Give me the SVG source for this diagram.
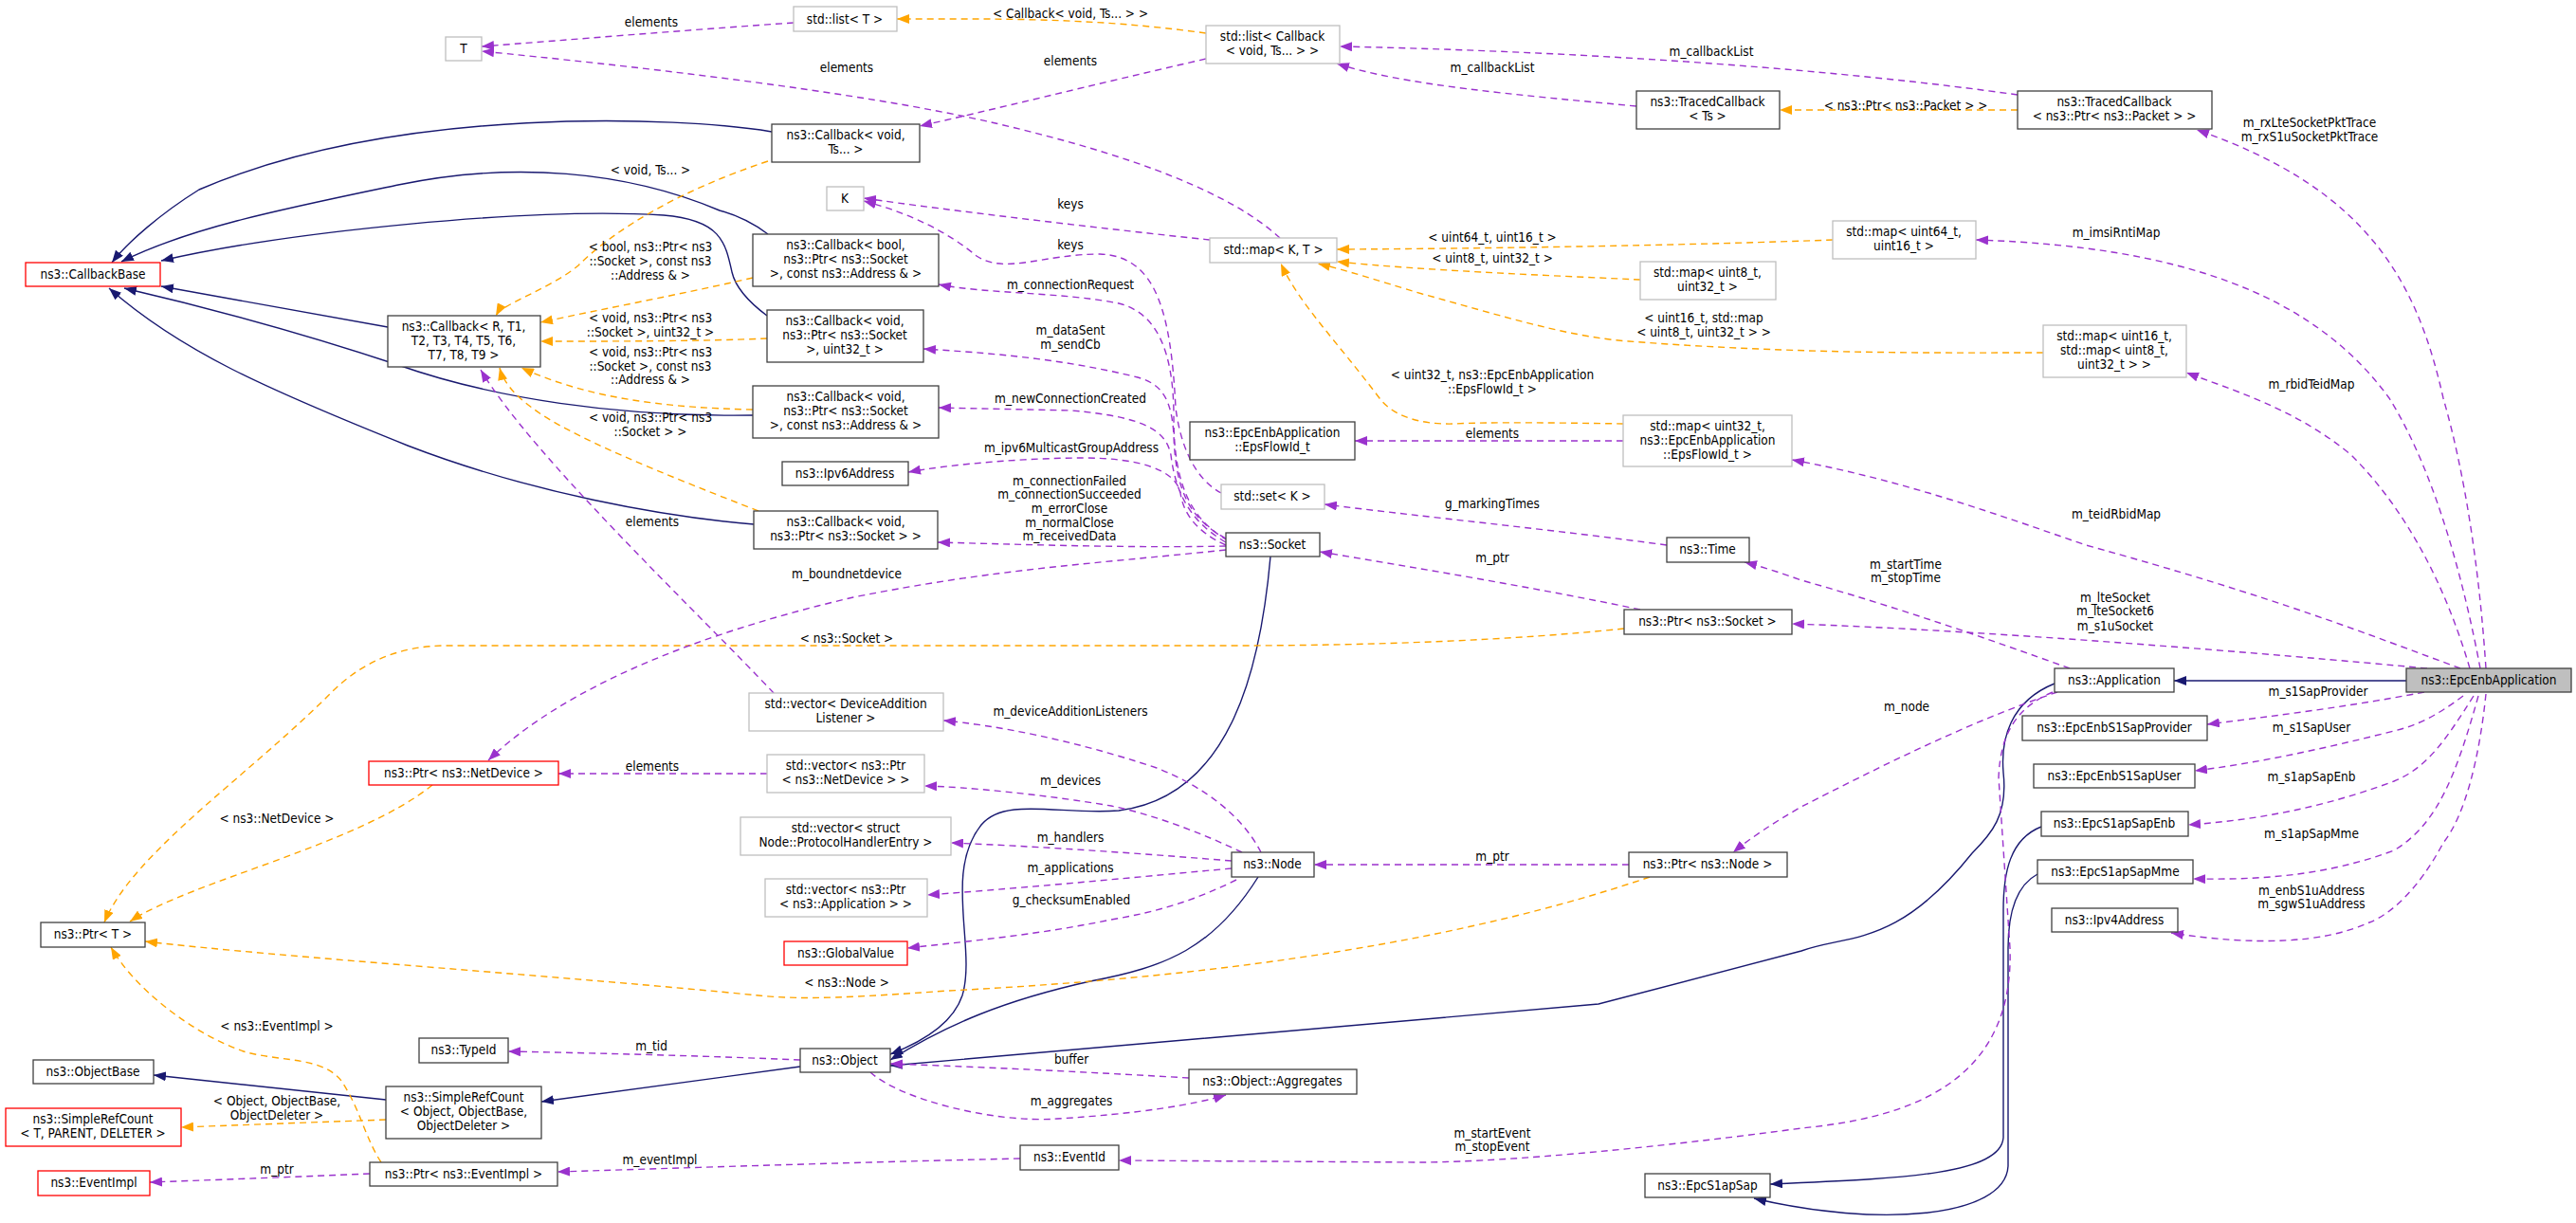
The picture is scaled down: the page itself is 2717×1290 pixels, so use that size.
<svg xmlns="http://www.w3.org/2000/svg" width="2717" height="1290" viewBox="0 0 2717 1290">
<style>
text{font-family:"DejaVu Sans Condensed","Liberation Sans",Arial,sans-serif;font-size:13.5px;fill:#000;text-anchor:middle}
.n rect{fill:#fff;stroke:#404040;stroke-width:1.3}
.g rect{fill:#fff;stroke:#bfbfbf;stroke-width:1.3}
.r rect{fill:#fff;stroke:#ff0000;stroke-width:1.3}
.sel rect{fill:#bfbfbf;stroke:#404040;stroke-width:1.3}
.i{fill:none;stroke:#191970;stroke-width:1.4;marker-end:url(#ai)}
.u{fill:none;stroke:#9a32cd;stroke-width:1.4;stroke-dasharray:7,5;marker-end:url(#au)}
.t{fill:none;stroke:#ffa500;stroke-width:1.4;stroke-dasharray:7,5;marker-end:url(#at)}
</style>
<defs>
<marker id="ai" markerUnits="userSpaceOnUse" markerWidth="14" markerHeight="10" refX="13" refY="5" orient="auto"><path d="M0,0 L13,5 L0,10 z" fill="#191970"/></marker>
<marker id="au" markerUnits="userSpaceOnUse" markerWidth="14" markerHeight="10" refX="13" refY="5" orient="auto"><path d="M0,0 L13,5 L0,10 z" fill="#9a32cd"/></marker>
<marker id="at" markerUnits="userSpaceOnUse" markerWidth="14" markerHeight="10" refX="13" refY="5" orient="auto"><path d="M0,0 L13,5 L0,10 z" fill="#ffa500"/></marker>
</defs>
<rect width="2717" height="1290" fill="#fff"/>
<g id="connectors">
<path class="i" d="M814,139 C720,123 420,110 210,200 C170,225 135,255 118,277"/>
<path class="i" d="M810,247 C790,232 770,225 759,222 C660,180 540,170 420,195 C300,220 200,240 128,276"/>
<path class="i" d="M809,333 C785,315 775,300 772,287 C765,255 760,232 700,227 C560,218 300,245 170,275"/>
<path class="i" d="M409,345 L170,302"/>
<path class="i" d="M794,438 C650,440 520,420 420,385 C300,345 200,320 131,304"/>
<path class="i" d="M795,553 C700,545 560,520 430,470 C280,410 190,370 115,304"/>
<path class="i" d="M1340,587 C1330,700 1300,840 1180,855 C1120,860 1060,840 1035,870 C995,920 1030,1000 1015,1050 C1005,1080 970,1100 939,1112"/>
<path class="i" d="M1327,925 C1280,1000 1230,1020 1150,1035 C1060,1055 1000,1080 939,1118"/>
<path class="i" d="M2167,721 C2120,740 2110,780 2113,815 C2118,860 2100,880 2080,900 C2000,1000 1950,985 1900,1003 L1686,1059 L939,1124"/>
<path class="i" d="M844,1125 L571,1162"/>
<path class="i" d="M407,1160 L162,1134"/>
<path class="i" d="M2538,718 L2293,718"/>
<path class="i" d="M2153,872 C2120,885 2113,920 2113,960 L2113,1200 C2110,1240 2000,1243 1867,1249"/>
<path class="i" d="M2149,922 C2125,935 2118,965 2118,1000 L2118,1230 C2115,1285 1980,1295 1850,1264"/>
<path class="t" d="M1272,35 C1150,18 1050,20 946,20"/>
<path class="t" d="M810,170 C720,200 650,240 610,280 C580,305 530,320 523,333"/>
<path class="t" d="M794,293 C720,310 640,325 570,340"/>
<path class="t" d="M809,357 C740,360 650,360 570,360"/>
<path class="t" d="M794,432 C700,430 620,420 550,388"/>
<path class="t" d="M800,539 C700,500 600,460 561,430 C540,415 530,400 527,388"/>
<path class="t" d="M2128,116 L1877,116"/>
<path class="t" d="M1933,253 C1800,258 1600,262 1410,263"/>
<path class="t" d="M1730,295 C1620,290 1500,285 1410,276"/>
<path class="t" d="M2155,372 C2050,372 1900,374 1718,360 C1650,355 1574,330 1500,310 C1450,295 1420,285 1390,278"/>
<path class="t" d="M1712,447 C1650,446 1570,445 1534,447 C1500,448 1470,440 1455,420 C1410,360 1370,320 1351,278"/>
<path class="t" d="M1713,663 C1600,675 1450,681 1300,681 L470,681 C420,681 380,700 350,730 C260,820 140,900 110,973"/>
<path class="t" d="M456,828 C380,890 200,930 137,972"/>
<path class="t" d="M1740,925 C1550,990 1300,1030 1000,1045 C900,1052 850,1055 800,1050 C600,1030 300,1010 153,993"/>
<path class="t" d="M402,1226 C385,1200 380,1170 360,1140 C340,1115 300,1120 260,1110 C200,1090 140,1040 117,999"/>
<path class="t" d="M407,1181 L191,1189"/>
<path class="u" d="M837,24 C720,32 600,42 508,49"/>
<path class="u" d="M1350,251 C1300,205 1200,165 1050,130 C900,95 650,68 508,54"/>
<path class="u" d="M1272,62 C1150,90 1050,115 970,133"/>
<path class="u" d="M1726,112 C1600,100 1480,90 1410,67"/>
<path class="u" d="M2128,100 C1950,75 1700,55 1413,49"/>
<path class="u" d="M1276,253 C1180,243 1000,222 911,209"/>
<path class="u" d="M1288,520 C1260,505 1245,470 1240,430 C1235,330 1220,270 1160,268 C1100,268 1060,290 1030,270 C1000,245 960,225 911,212"/>
<path class="u" d="M1295,570 C1250,545 1238,500 1238,440 C1238,370 1220,330 1180,320 C1120,308 1040,310 990,300"/>
<path class="u" d="M1293,568 C1250,545 1240,510 1238,460 C1236,420 1225,405 1200,398 C1120,378 1040,372 974,368"/>
<path class="u" d="M1293,572 C1255,550 1240,520 1235,480 C1230,455 1210,440 1130,433 L990,430"/>
<path class="u" d="M1293,575 C1260,560 1248,540 1245,520 C1240,495 1200,483 1143,483 C1080,483 1000,490 958,498"/>
<path class="u" d="M1293,576 C1200,578 1100,575 989,572"/>
<path class="u" d="M1293,580 C1150,595 1050,600 900,630 C750,665 600,720 515,802"/>
<path class="u" d="M1712,465 L1429,465"/>
<path class="u" d="M1758,575 C1650,560 1500,545 1397,532"/>
<path class="u" d="M1730,643 C1620,620 1500,600 1392,582"/>
<path class="u" d="M816,731 C740,650 560,480 507,390"/>
<path class="u" d="M809,816 L589,816"/>
<path class="u" d="M1330,899 C1310,860 1270,830 1220,810 C1130,780 1050,765 995,760"/>
<path class="u" d="M1310,899 C1270,880 1220,860 1172,850 C1100,838 1020,830 975,829"/>
<path class="u" d="M1299,908 C1200,900 1100,893 1003,889"/>
<path class="u" d="M1299,916 C1200,925 1100,935 978,944"/>
<path class="u" d="M1304,928 C1260,950 1220,962 1172,970 C1100,985 1030,992 957,1000"/>
<path class="u" d="M1718,912 L1386,912"/>
<path class="u" d="M844,1118 C750,1114 640,1111 536,1109"/>
<path class="u" d="M1254,1137 C1150,1131 1050,1126 939,1122"/>
<path class="u" d="M918,1131 C950,1160 1050,1185 1115,1180 C1200,1175 1260,1165 1293,1155"/>
<path class="u" d="M390,1238 C320,1241 240,1244 158,1247"/>
<path class="u" d="M1076,1222 C900,1226 750,1231 588,1236"/>
<path class="u" d="M2165,730 C2130,745 2110,770 2108,820 L2120,1000 C2125,1150 2000,1180 1900,1190 C1750,1210 1600,1225 1500,1226 L1180,1224"/>
<path class="u" d="M2183,705 C2100,675 2000,640 1900,612 C1880,605 1860,598 1840,593"/>
<path class="u" d="M2170,730 C2080,760 1980,810 1900,851 C1870,868 1845,885 1828,899"/>
<path class="u" d="M2622,705 C2615,600 2600,500 2577,420 C2550,300 2500,200 2317,137"/>
<path class="u" d="M2616,705 C2600,620 2570,500 2520,420 C2440,310 2300,260 2084,253"/>
<path class="u" d="M2605,705 C2580,620 2540,540 2480,480 C2420,430 2350,410 2306,393"/>
<path class="u" d="M2595,705 C2500,670 2400,630 2200,575 C2100,540 2000,505 1890,485"/>
<path class="u" d="M2560,705 C2400,690 2100,665 1890,658"/>
<path class="u" d="M2557,730 C2480,745 2400,755 2328,764"/>
<path class="u" d="M2598,734 C2570,755 2550,765 2525,771 C2450,790 2380,805 2315,813"/>
<path class="u" d="M2609,734 C2580,780 2560,810 2525,824 C2450,852 2380,865 2308,870"/>
<path class="u" d="M2614,734 C2590,820 2570,870 2525,897 C2450,925 2380,928 2313,927"/>
<path class="u" d="M2622,732 C2615,800 2600,860 2577,889 C2550,940 2520,965 2499,973 C2450,995 2380,998 2290,984"/>
<text x="1129" y="19">&lt; Callback&lt; void, Ts... &gt; &gt;</text>
<text x="687" y="28">elements</text>
<text x="893" y="76">elements</text>
<text x="1129" y="69">elements</text>
<text x="1574" y="76">m_callbackList</text>
<text x="1805" y="59">m_callbackList</text>
<text x="686" y="184">&lt; void, Ts... &gt;</text>
<text x="1129" y="220">keys</text>
<text x="1129" y="263">keys</text>
<text x="686" y="265">&lt; bool, ns3::Ptr&lt; ns3</text>
<text x="686" y="280">::Socket &gt;, const ns3</text>
<text x="686" y="295">::Address &amp; &gt;</text>
<text x="686" y="340">&lt; void, ns3::Ptr&lt; ns3</text>
<text x="686" y="355">::Socket &gt;, uint32_t &gt;</text>
<text x="686" y="376">&lt; void, ns3::Ptr&lt; ns3</text>
<text x="686" y="391">::Socket &gt;, const ns3</text>
<text x="686" y="405">::Address &amp; &gt;</text>
<text x="686" y="445">&lt; void, ns3::Ptr&lt; ns3</text>
<text x="686" y="460">::Socket &gt; &gt;</text>
<text x="1129" y="305">m_connectionRequest</text>
<text x="1129" y="353">m_dataSent</text>
<text x="1129" y="368">m_sendCb</text>
<text x="1129" y="425">m_newConnectionCreated</text>
<text x="1130" y="477">m_ipv6MulticastGroupAddress</text>
<text x="1128" y="512">m_connectionFailed</text>
<text x="1128" y="526">m_connectionSucceeded</text>
<text x="1128" y="541">m_errorClose</text>
<text x="1128" y="556">m_normalClose</text>
<text x="1128" y="570">m_receivedData</text>
<text x="893" y="610">m_boundnetdevice</text>
<text x="893" y="678">&lt; ns3::Socket &gt;</text>
<text x="688" y="555">elements</text>
<text x="688" y="813">elements</text>
<text x="292" y="868">&lt; ns3::NetDevice &gt;</text>
<text x="1129" y="755">m_deviceAdditionListeners</text>
<text x="1129" y="828">m_devices</text>
<text x="1129" y="888">m_handlers</text>
<text x="1129" y="920">m_applications</text>
<text x="1130" y="954">g_checksumEnabled</text>
<text x="893" y="1041">&lt; ns3::Node &gt;</text>
<text x="292" y="1087">&lt; ns3::EventImpl &gt;</text>
<text x="687" y="1108">m_tid</text>
<text x="1130" y="1122">buffer</text>
<text x="1130" y="1166">m_aggregates</text>
<text x="292" y="1166">&lt; Object, ObjectBase,</text>
<text x="292" y="1181">ObjectDeleter &gt;</text>
<text x="292" y="1238">m_ptr</text>
<text x="696" y="1228">m_eventImpl</text>
<text x="1574" y="1200">m_startEvent</text>
<text x="1574" y="1214">m_stopEvent</text>
<text x="1574" y="908">m_ptr</text>
<text x="2010" y="116">&lt; ns3::Ptr&lt; ns3::Packet &gt; &gt;</text>
<text x="1574" y="255">&lt; uint64_t, uint16_t &gt;</text>
<text x="1574" y="277">&lt; uint8_t, uint32_t &gt;</text>
<text x="1797" y="340">&lt; uint16_t, std::map</text>
<text x="1797" y="355">&lt; uint8_t, uint32_t &gt; &gt;</text>
<text x="1574" y="400">&lt; uint32_t, ns3::EpcEnbApplication</text>
<text x="1574" y="415">::EpsFlowId_t &gt;</text>
<text x="1574" y="462">elements</text>
<text x="1574" y="536">g_markingTimes</text>
<text x="1574" y="593">m_ptr</text>
<text x="2010" y="600">m_startTime</text>
<text x="2010" y="614">m_stopTime</text>
<text x="2011" y="750">m_node</text>
<text x="2436" y="134">m_rxLteSocketPktTrace</text>
<text x="2436" y="149">m_rxS1uSocketPktTrace</text>
<text x="2232" y="250">m_imsiRntiMap</text>
<text x="2438" y="410">m_rbidTeidMap</text>
<text x="2232" y="547">m_teidRbidMap</text>
<text x="2231" y="635">m_lteSocket</text>
<text x="2231" y="649">m_lteSocket6</text>
<text x="2231" y="665">m_s1uSocket</text>
<text x="2445" y="734">m_s1SapProvider</text>
<text x="2438" y="772">m_s1SapUser</text>
<text x="2438" y="824">m_s1apSapEnb</text>
<text x="2438" y="884">m_s1apSapMme</text>
<text x="2438" y="944">m_enbS1uAddress</text>
<text x="2438" y="958">m_sgwS1uAddress</text>
</g>
<g id="n_listT" class="g"><rect x="837" y="7" width="109" height="26"/><text x="891" y="25">std::list&lt; T &gt;</text></g>
<g id="n_T" class="g"><rect x="470" y="39" width="38" height="25"/><text x="489" y="56">T</text></g>
<g id="n_cbVoidTs" class="n"><rect x="814" y="131" width="156" height="40"/><text x="892" y="147">ns3::Callback&lt; void,</text><text x="892" y="162">Ts... &gt;</text></g>
<g id="n_K" class="g"><rect x="872" y="197" width="39" height="25"/><text x="891" y="214">K</text></g>
<g id="n_CallbackBase" class="r"><rect x="27" y="277" width="142" height="25"/><text x="98" y="294">ns3::CallbackBase</text></g>
<g id="n_cbBool" class="n"><rect x="794" y="247" width="196" height="55"/><text x="892" y="263">ns3::Callback&lt; bool,</text><text x="892" y="278">ns3::Ptr&lt; ns3::Socket</text><text x="892" y="293">&gt;, const ns3::Address &amp; &gt;</text></g>
<g id="n_cbR" class="n"><rect x="409" y="333" width="161" height="54"/><text x="489" y="349">ns3::Callback&lt; R, T1,</text><text x="489" y="364">T2, T3, T4, T5, T6,</text><text x="489" y="379">T7, T8, T9 &gt;</text></g>
<g id="n_cbVoidU32" class="n"><rect x="809" y="327" width="165" height="55"/><text x="891" y="343">ns3::Callback&lt; void,</text><text x="891" y="358">ns3::Ptr&lt; ns3::Socket</text><text x="891" y="373">&gt;, uint32_t &gt;</text></g>
<g id="n_cbVoidAddr" class="n"><rect x="794" y="407" width="196" height="55"/><text x="892" y="423">ns3::Callback&lt; void,</text><text x="892" y="438">ns3::Ptr&lt; ns3::Socket</text><text x="892" y="453">&gt;, const ns3::Address &amp; &gt;</text></g>
<g id="n_Ipv6" class="n"><rect x="825" y="487" width="133" height="25"/><text x="891" y="504">ns3::Ipv6Address</text></g>
<g id="n_cbVoidSock" class="n"><rect x="795" y="539" width="194" height="40"/><text x="892" y="555">ns3::Callback&lt; void,</text><text x="892" y="570">ns3::Ptr&lt; ns3::Socket &gt; &gt;</text></g>
<g id="n_vecDAL" class="g"><rect x="790" y="731" width="205" height="40"/><text x="892" y="747">std::vector&lt; DeviceAddition</text><text x="892" y="762">Listener &gt;</text></g>
<g id="n_PtrNetDev" class="r"><rect x="389" y="803" width="200" height="25"/><text x="489" y="820">ns3::Ptr&lt; ns3::NetDevice &gt;</text></g>
<g id="n_vecPtrND" class="g"><rect x="809" y="796" width="166" height="40"/><text x="892" y="812">std::vector&lt; ns3::Ptr</text><text x="892" y="827">&lt; ns3::NetDevice &gt; &gt;</text></g>
<g id="n_vecPHE" class="g"><rect x="781" y="862" width="222" height="40"/><text x="892" y="878">std::vector&lt; struct</text><text x="892" y="893">Node::ProtocolHandlerEntry &gt;</text></g>
<g id="n_vecApp" class="g"><rect x="807" y="927" width="171" height="40"/><text x="892" y="943">std::vector&lt; ns3::Ptr</text><text x="892" y="958">&lt; ns3::Application &gt; &gt;</text></g>
<g id="n_GlobalValue" class="r"><rect x="827" y="993" width="130" height="25"/><text x="892" y="1010">ns3::GlobalValue</text></g>
<g id="n_PtrT" class="n"><rect x="43" y="973" width="110" height="26"/><text x="98" y="990">ns3::Ptr&lt; T &gt;</text></g>
<g id="n_TypeId" class="n"><rect x="442" y="1095" width="94" height="26"/><text x="489" y="1112">ns3::TypeId</text></g>
<g id="n_Object" class="n"><rect x="844" y="1106" width="95" height="25"/><text x="891" y="1123">ns3::Object</text></g>
<g id="n_ObjectBase" class="n"><rect x="35" y="1118" width="127" height="25"/><text x="98" y="1135">ns3::ObjectBase</text></g>
<g id="n_SRCObj" class="n"><rect x="407" y="1146" width="164" height="55"/><text x="489" y="1162">ns3::SimpleRefCount</text><text x="489" y="1177">&lt; Object, ObjectBase,</text><text x="489" y="1192">ObjectDeleter &gt;</text></g>
<g id="n_SRCT" class="r"><rect x="6" y="1169" width="185" height="40"/><text x="98" y="1185">ns3::SimpleRefCount</text><text x="98" y="1200">&lt; T, PARENT, DELETER &gt;</text></g>
<g id="n_EventImpl" class="r"><rect x="40" y="1235" width="118" height="26"/><text x="99" y="1252">ns3::EventImpl</text></g>
<g id="n_PtrEventImpl" class="n"><rect x="390" y="1226" width="198" height="25"/><text x="489" y="1243">ns3::Ptr&lt; ns3::EventImpl &gt;</text></g>
<g id="n_listCb" class="g"><rect x="1272" y="27" width="141" height="40"/><text x="1342" y="43">std::list&lt; Callback</text><text x="1342" y="58">&lt; void, Ts... &gt; &gt;</text></g>
<g id="n_TracedTs" class="n"><rect x="1726" y="96" width="151" height="40"/><text x="1801" y="112">ns3::TracedCallback</text><text x="1801" y="127">&lt; Ts &gt;</text></g>
<g id="n_mapKT" class="g"><rect x="1276" y="251" width="134" height="26"/><text x="1343" y="268">std::map&lt; K, T &gt;</text></g>
<g id="n_map8" class="g"><rect x="1730" y="276" width="143" height="40"/><text x="1801" y="292">std::map&lt; uint8_t,</text><text x="1801" y="307">uint32_t &gt;</text></g>
<g id="n_map32" class="g"><rect x="1712" y="438" width="178" height="54"/><text x="1801" y="454">std::map&lt; uint32_t,</text><text x="1801" y="469">ns3::EpcEnbApplication</text><text x="1801" y="484">::EpsFlowId_t &gt;</text></g>
<g id="n_EpsFlowId" class="n"><rect x="1255" y="445" width="174" height="40"/><text x="1342" y="461">ns3::EpcEnbApplication</text><text x="1342" y="476">::EpsFlowId_t</text></g>
<g id="n_setK" class="g"><rect x="1288" y="511" width="109" height="26"/><text x="1342" y="528">std::set&lt; K &gt;</text></g>
<g id="n_Socket" class="n"><rect x="1293" y="562" width="99" height="25"/><text x="1342" y="579">ns3::Socket</text></g>
<g id="n_Time" class="n"><rect x="1758" y="567" width="87" height="26"/><text x="1801" y="584">ns3::Time</text></g>
<g id="n_PtrSocket" class="n"><rect x="1713" y="643" width="177" height="26"/><text x="1801" y="660">ns3::Ptr&lt; ns3::Socket &gt;</text></g>
<g id="n_Node" class="n"><rect x="1299" y="899" width="87" height="26"/><text x="1342" y="916">ns3::Node</text></g>
<g id="n_PtrNode" class="n"><rect x="1718" y="899" width="167" height="26"/><text x="1801" y="916">ns3::Ptr&lt; ns3::Node &gt;</text></g>
<g id="n_Aggregates" class="n"><rect x="1254" y="1128" width="177" height="26"/><text x="1342" y="1145">ns3::Object::Aggregates</text></g>
<g id="n_EventId" class="n"><rect x="1076" y="1208" width="104" height="26"/><text x="1128" y="1225">ns3::EventId</text></g>
<g id="n_EpcS1apSap" class="n"><rect x="1735" y="1238" width="132" height="25"/><text x="1801" y="1255">ns3::EpcS1apSap</text></g>
<g id="n_TracedPkt" class="n"><rect x="2128" y="96" width="205" height="40"/><text x="2230" y="112">ns3::TracedCallback</text><text x="2230" y="127">&lt; ns3::Ptr&lt; ns3::Packet &gt; &gt;</text></g>
<g id="n_map64" class="g"><rect x="1933" y="233" width="151" height="40"/><text x="2008" y="249">std::map&lt; uint64_t,</text><text x="2008" y="264">uint16_t &gt;</text></g>
<g id="n_map16" class="g"><rect x="2155" y="343" width="151" height="55"/><text x="2230" y="359">std::map&lt; uint16_t,</text><text x="2230" y="374">std::map&lt; uint8_t,</text><text x="2230" y="389">uint32_t &gt; &gt;</text></g>
<g id="n_Application" class="n"><rect x="2167" y="705" width="126" height="25"/><text x="2230" y="722">ns3::Application</text></g>
<g id="n_EpcEnbApplication" class="sel"><rect x="2538" y="705" width="174" height="25"/><text x="2625" y="722">ns3::EpcEnbApplication</text></g>
<g id="n_S1SapProvider" class="n"><rect x="2133" y="755" width="195" height="26"/><text x="2230" y="772">ns3::EpcEnbS1SapProvider</text></g>
<g id="n_S1SapUser" class="n"><rect x="2145" y="806" width="170" height="25"/><text x="2230" y="823">ns3::EpcEnbS1SapUser</text></g>
<g id="n_S1apSapEnb" class="n"><rect x="2153" y="856" width="155" height="26"/><text x="2230" y="873">ns3::EpcS1apSapEnb</text></g>
<g id="n_S1apSapMme" class="n"><rect x="2149" y="907" width="164" height="25"/><text x="2231" y="924">ns3::EpcS1apSapMme</text></g>
<g id="n_Ipv4" class="n"><rect x="2164" y="958" width="133" height="25"/><text x="2230" y="975">ns3::Ipv4Address</text></g>
</svg>
